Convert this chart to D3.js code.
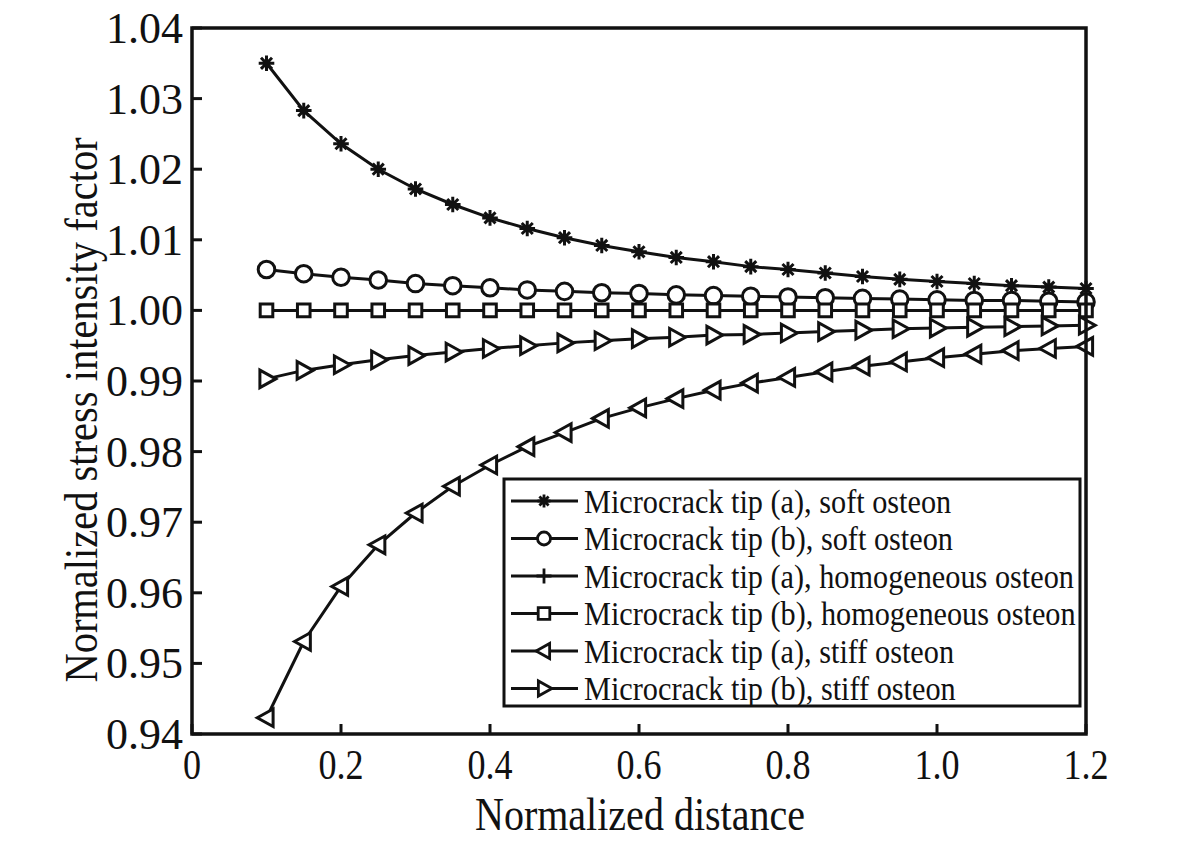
<!DOCTYPE html>
<html>
<head>
<meta charset="utf-8">
<script src="https://cdn.jsdelivr.net/npm/d3@7"></script>
<style>
  html, body { margin: 0; padding: 0; background: #fff; }
  svg { display: block; }
  text { font-family: "Liberation Serif", "Times New Roman", serif; fill: #111; }
</style>
</head>
<body>
<svg id="chart" width="1200" height="854"></svg>
<script>
// normalized distance, 0.10 .. 1.20
const distance = [0.10, 0.15, 0.20, 0.25, 0.30, 0.35, 0.40, 0.45, 0.50, 0.55, 0.60, 0.65,
  0.70, 0.75, 0.80, 0.85, 0.90, 0.95, 1.00, 1.05, 1.10, 1.15, 1.20];

const softA = [1.0350, 1.0283, 1.0236, 1.0200, 1.0172, 1.0150, 1.0131, 1.0116, 1.0103, 1.0092,
  1.0083, 1.0075, 1.0069, 1.0062, 1.0058, 1.0053, 1.0048, 1.0044, 1.0041, 1.0038, 1.0035, 1.0033, 1.0031];
const softB = [1.0058, 1.0052, 1.0047, 1.0043, 1.0038, 1.0035, 1.0032, 1.0029, 1.0027, 1.0025,
  1.0024, 1.0022, 1.0021, 1.0020, 1.0019, 1.0018, 1.0017, 1.0016, 1.0015, 1.0014, 1.0014, 1.0013, 1.0012];
const homoA = [1, 1, 1, 1, 1, 1, 1, 1, 1, 1, 1, 1, 1, 1, 1, 1, 1, 1, 1, 1, 1, 1, 1];
const homoB = [1, 1, 1, 1, 1, 1, 1, 1, 1, 1, 1, 1, 1, 1, 1, 1, 1, 1, 1, 1, 1, 1, 1];
const stiffA = [0.9423, 0.9531, 0.9609, 0.9668, 0.9713, 0.9751, 0.9781, 0.9807, 0.9827, 0.9847,
  0.9862, 0.9875, 0.9887, 0.9897, 0.9905, 0.9913, 0.9921, 0.9927, 0.9933, 0.9938, 0.9943, 0.9946, 0.9949];
const stiffB = [0.9903, 0.9915, 0.9923, 0.9930, 0.9936, 0.9941, 0.9946, 0.9950, 0.9954, 0.9957,
  0.9960, 0.9962, 0.9965, 0.9966, 0.9968, 0.9970, 0.9972, 0.9974, 0.9975, 0.9976, 0.9977, 0.9978, 0.9979];

const seriesNames = [
  'Microcrack tip (a), soft osteon',
  'Microcrack tip (b), soft osteon',
  'Microcrack tip (a), homogeneous osteon',
  'Microcrack tip (b), homogeneous osteon',
  'Microcrack tip (a), stiff osteon',
  'Microcrack tip (b), stiff osteon'
];
const seriesValues = [softA, softB, homoA, homoB, stiffA, stiffB];
const seriesMarkers = ['star', 'circle', 'plus', 'square', 'triLeft', 'triRight'];

const xTicks = [0, 0.2, 0.4, 0.6, 0.8, 1.0, 1.2];
const xTickLabels = ['0', '0.2', '0.4', '0.6', '0.8', '1.0', '1.2'];
const yTicks = [0.94, 0.95, 0.96, 0.97, 0.98, 0.99, 1.00, 1.01, 1.02, 1.03, 1.04];

const svg = d3.select('#chart');
const margin = { left: 192, top: 28, right: 114, bottom: 120 };
const W = 1200 - margin.left - margin.right;
const H = 854 - margin.top - margin.bottom;

const x = d3.scaleLinear().domain([0, 1.2]).range([0, W]);
const y = d3.scaleLinear().domain([0.94, 1.04]).range([H, 0]);

const g = svg.append('g').attr('transform', `translate(${margin.left},${margin.top})`);

// squeeze a text a little, the original face is narrower than Liberation Serif
const condense = (sel, k) => sel.each(function () {
  const w = this.getComputedTextLength();
  d3.select(this).attr('textLength', w * k).attr('lengthAdjust', 'spacingAndGlyphs');
});

// marker path by kind and radius
function markerPath(kind, r) {
  const p = d3.path();
  if (kind === 'star') {
    const d = r * Math.SQRT1_2;
    p.moveTo(0, -r); p.lineTo(0, r);
    p.moveTo(-r, 0); p.lineTo(r, 0);
    p.moveTo(-d, -d); p.lineTo(d, d);
    p.moveTo(-d, d); p.lineTo(d, -d);
  } else if (kind === 'circle') {
    p.moveTo(r, 0); p.arc(0, 0, r, 0, 2 * Math.PI);
  } else if (kind === 'plus') {
    p.moveTo(0, -r); p.lineTo(0, r);
    p.moveTo(-r, 0); p.lineTo(r, 0);
  } else if (kind === 'square') {
    p.rect(-r, -r, 2 * r, 2 * r);
  } else if (kind === 'triLeft') {
    p.moveTo(-r * 1.05, 0); p.lineTo(r * 0.75, -r); p.lineTo(r * 0.75, r); p.closePath();
  } else if (kind === 'triRight') {
    p.moveTo(r * 1.05, 0); p.lineTo(-r * 0.75, -r); p.lineTo(-r * 0.75, r); p.closePath();
  }
  return p.toString();
}
const plotRadius = { star: 7.8, circle: 8.3, plus: 7, square: 6.3, triLeft: 8.8, triRight: 8.8 };
const legendRadius = { star: 6.5, circle: 6.5, plus: 7.5, square: 5.8, triLeft: 7.5, triRight: 7.5 };

// axis ticks (inward) and labels
g.append('g').attr('class', 'yticks')
  .selectAll('line').data(yTicks).join('line')
  .attr('x1', 0).attr('x2', 10)
  .attr('y1', d => y(d)).attr('y2', d => y(d))
  .attr('stroke', '#111').attr('stroke-width', 3);

g.append('g').attr('class', 'ylabels')
  .selectAll('text').data(yTicks).join('text')
  .attr('x', -9).attr('y', d => y(d)).attr('dy', '0.34em')
  .attr('text-anchor', 'end').style('font-size', '44px')
  .text(d => d3.format('.2f')(d));

g.append('g').attr('class', 'xticks')
  .selectAll('line').data(xTicks).join('line')
  .attr('x1', d => x(d)).attr('x2', d => x(d))
  .attr('y1', H).attr('y2', H - 10)
  .attr('stroke', '#111').attr('stroke-width', 3);

g.append('g').attr('class', 'xlabels')
  .selectAll('text').data(xTicks).join('text')
  .attr('x', d => x(d)).attr('y', H + 45)
  .attr('text-anchor', 'middle').style('font-size', '43px')
  .text((d, i) => xTickLabels[i])
  .call(condense, 0.84);

// series lines + markers
const line = d3.line()
  .x((d, i) => x(distance[i]))
  .y(d => y(d));

seriesValues.forEach((vals, s) => {
  const kind = seriesMarkers[s];
  const sg = g.append('g').attr('class', 'series');
  sg.append('path')
    .attr('d', line(vals))
    .attr('fill', 'none').attr('stroke', '#111').attr('stroke-width', 3);
  sg.selectAll('path.mk').data(vals).join('path')
    .attr('class', 'mk')
    .attr('transform', (d, i) => `translate(${x(distance[i])},${y(d)})`)
    .attr('d', markerPath(kind, plotRadius[kind]))
    .attr('fill', kind === 'star' || kind === 'plus' ? 'none' : '#fff')
    .attr('stroke', '#111').attr('stroke-width', 3);
});

// frame
g.append('rect')
  .attr('x', 0).attr('y', 0).attr('width', W).attr('height', H)
  .attr('fill', 'none').attr('stroke', '#111').attr('stroke-width', 3.5);

// axis titles
g.append('text')
  .attr('x', x(0.6) + 1).attr('y', H + 96)
  .attr('text-anchor', 'middle').style('font-size', '46px')
  .text('Normalized distance')
  .call(condense, 0.87);

g.append('text')
  .attr('transform', `translate(${-95},${H / 2 + 29}) rotate(-90)`)
  .attr('text-anchor', 'middle').style('font-size', '46px')
  .text('Normalized stress intensity factor')
  .call(condense, 0.88);

// legend
const legend = g.append('g').attr('transform', `translate(${504 - margin.left},${479 - margin.top})`);
legend.append('rect')
  .attr('width', 576).attr('height', 227)
  .attr('fill', '#fff').attr('stroke', '#111').attr('stroke-width', 3);

const rows = legend.selectAll('g.row').data(seriesNames).join('g')
  .attr('class', 'row')
  .attr('transform', (d, i) => `translate(0,${22 + i * 37.5})`);
rows.append('line')
  .attr('x1', 7).attr('x2', 74)
  .attr('stroke', '#111').attr('stroke-width', 3);
rows.append('path')
  .attr('transform', 'translate(40,0)')
  .attr('d', (d, i) => markerPath(seriesMarkers[i], legendRadius[seriesMarkers[i]]))
  .attr('fill', (d, i) => seriesMarkers[i] === 'star' || seriesMarkers[i] === 'plus' ? 'none' : '#fff')
  .attr('stroke', '#111').attr('stroke-width', 2.8);
rows.append('text')
  .attr('x', 80).attr('dy', '0.34em')
  .style('font-size', '34px')
  .text(d => d)
  .call(condense, 0.89);
</script>
</body>
</html>
